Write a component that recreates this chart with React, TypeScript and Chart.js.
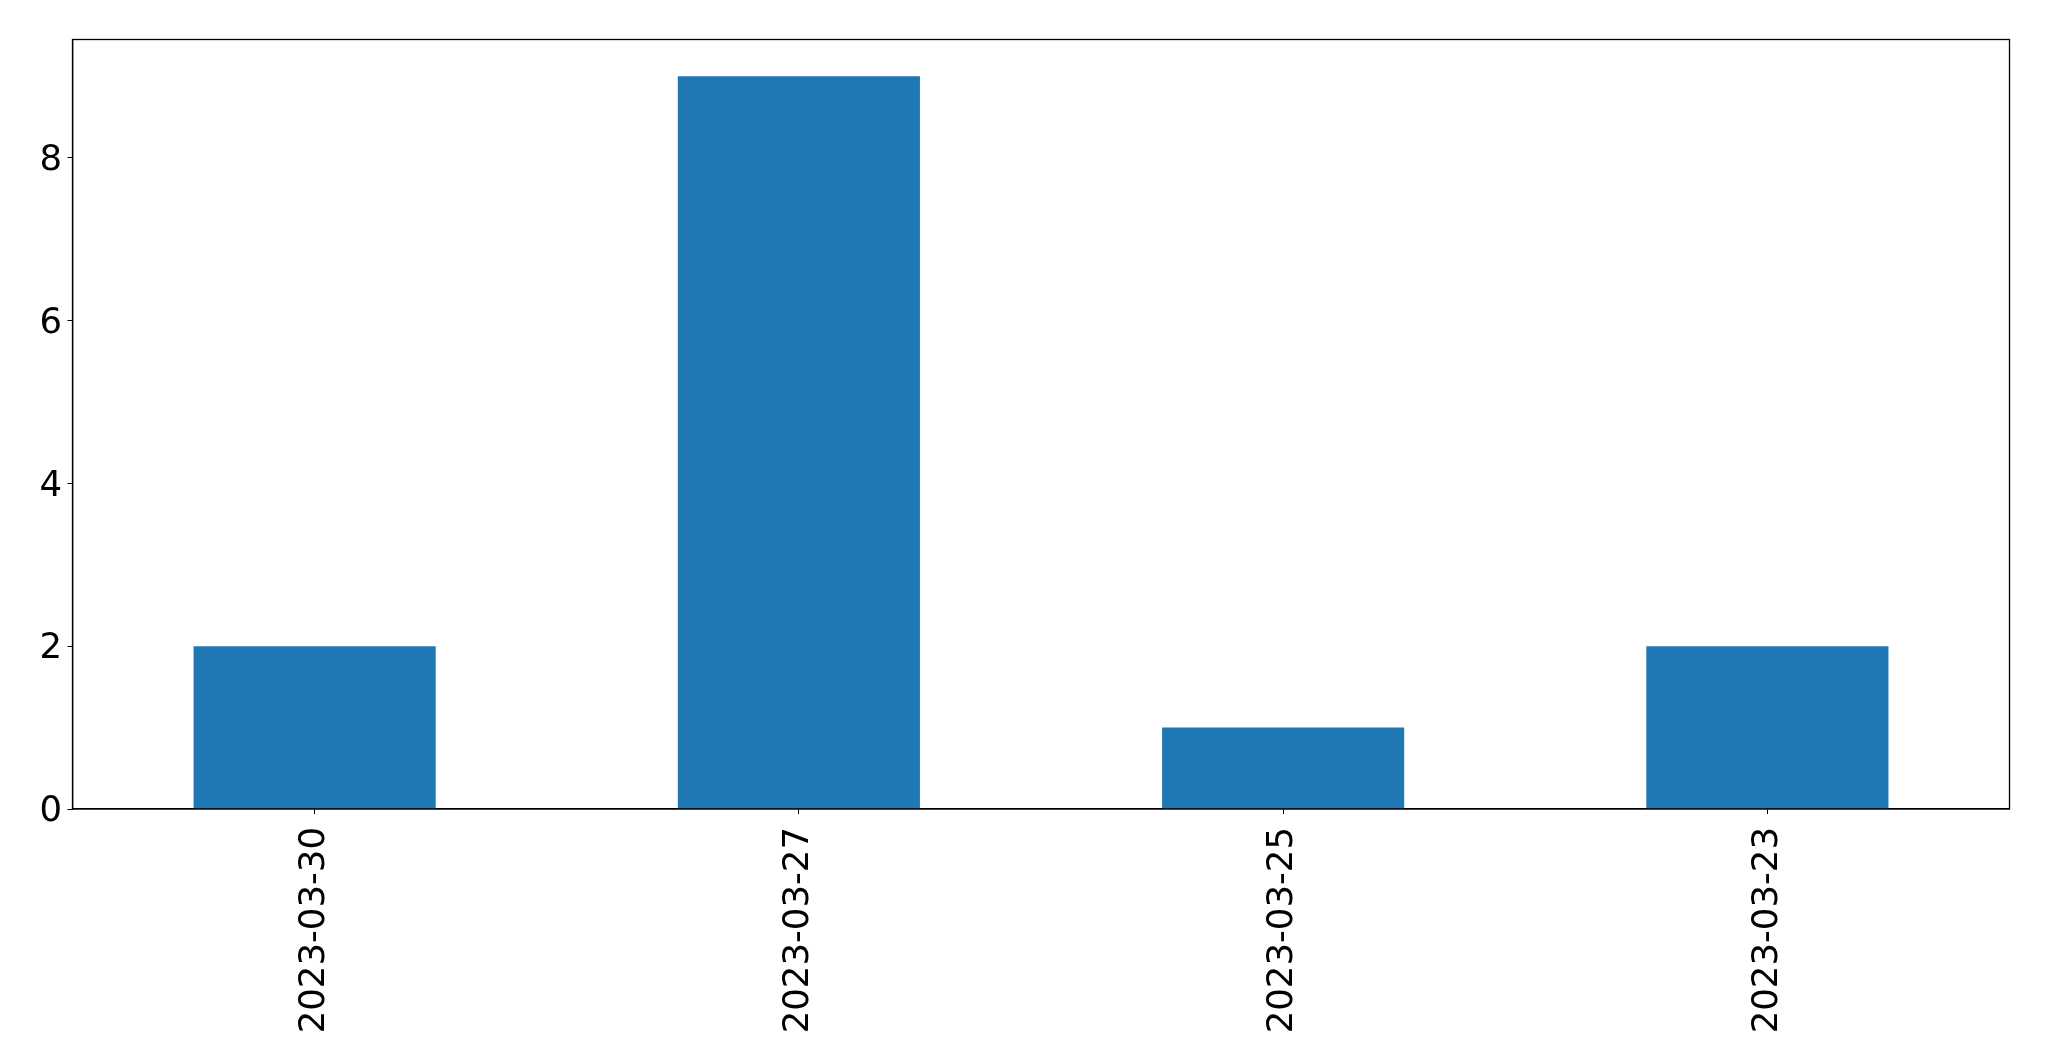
import React, { useEffect, useRef } from "react";
import { Chart, registerables } from "chart.js";

Chart.register(...registerables);

const categories = ["2023-03-30", "2023-03-27", "2023-03-25", "2023-03-23"];
const values = [2, 9, 1, 2];
const yTicks = [0, 2, 4, 6, 8];

const frame = {
  id: "frame",
  afterDraw(chart: any) {
    const { ctx, chartArea } = chart;
    ctx.save();
    ctx.strokeStyle = "#000";
    ctx.lineWidth = 1.3;
    ctx.strokeRect(chartArea.left, chartArea.top, chartArea.right - chartArea.left, chartArea.bottom - chartArea.top);
    ctx.restore();
  },
};

export default function App() {
  const ref = useRef<HTMLCanvasElement>(null);
  useEffect(() => {
    document.body.style.margin = "0";
    const font = { family: "DejaVu Sans", size: 35.5 };
    const chart = new Chart(ref.current!, {
      type: "bar",
      data: {
        labels: categories,
        datasets: [
          {
            data: values,
            backgroundColor: "#1f77b4",
            categoryPercentage: 1,
            barPercentage: 0.5,
          },
        ],
      },
      options: {
        animation: false,
        responsive: false,
        devicePixelRatio: 1,
        layout: { padding: { left: 0, top: 39.5, right: 39.5, bottom: 0 } },
        plugins: { legend: { display: false }, tooltip: { enabled: false } },
        scales: {
          x: {
            offset: true,
            grid: { drawOnChartArea: false, drawTicks: true, tickLength: 5, color: "#000", offset: false },
            border: { display: true, color: "#000", width: 1.3 },
            ticks: { font, color: "#000", minRotation: 90, maxRotation: 90, padding: 13, autoSkip: false },
            afterFit(scale: any) {
              scale.height = 252;
            },
          },
          y: {
            min: 0,
            max: 9.45,
            grid: { drawOnChartArea: false, drawTicks: true, tickLength: 5, color: "#000" },
            border: { display: true, color: "#000", width: 1.3 },
            ticks: {
              font,
              color: "#000",
              stepSize: 2,
              includeBounds: false,
              padding: 5.5,
              labelOffset: 3,
              callback: (v: any) => (yTicks.includes(Number(v)) ? String(v) : ""),
            },
            afterFit(scale: any) {
              scale.width = 72.5;
            },
          },
        },
      },
      plugins: [frame],
    });
    return () => chart.destroy();
  }, []);
  return (
    <div style={{ width: 2049, height: 1061 }}>
      <canvas ref={ref} width={2049} height={1061} style={{ display: "block" }} />
    </div>
  );
}
